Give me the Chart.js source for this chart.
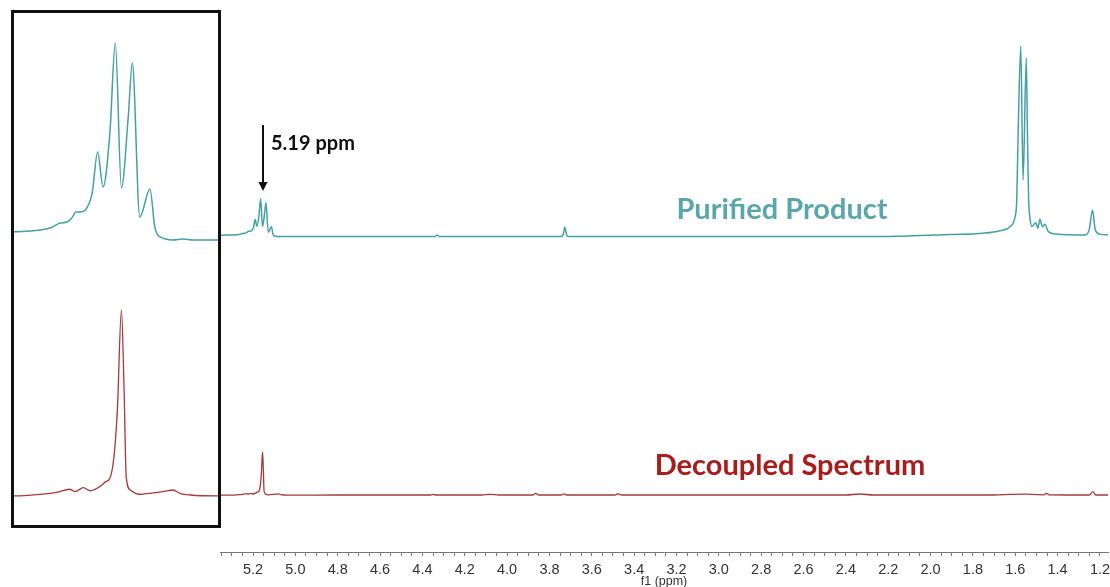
<!DOCTYPE html>
<html>
<head>
<meta charset="utf-8">
<script src="https://cdn.jsdelivr.net/npm/chart.js@4"></script>
<style>
  body { margin: 0; background: #fff; }
  #main { position: absolute; left: 0; top: 0; }
  #insetBox { position: absolute; left: 11px; top: 10px; width: 204px; height: 512px; border: 3px solid #111; background: #fff; }
  #inset { display: block; }
</style>
</head>
<body>
<canvas id="main" width="1110" height="587"></canvas>
<div id="insetBox"><canvas id="inset" width="204" height="512"></canvas></div>
<script>
// chemical shift (ppm) and intensity
const tealPpm = [5.36, 5.316, 5.26, 5.245, 5.235, 5.228, 5.222, 5.216, 5.206, 5.198, 5.19, 5.182, 5.172, 5.164, 5.155, 5.145, 5.139, 5.128, 5.113, 5.106, 5.098, 5.079, 5.065, 5.05, 5.01, 4.6, 4.34, 4.33, 4.32, 3.745, 3.735, 3.727, 3.72, 3.71, 2.5, 2.2, 1.908, 1.75, 1.672, 1.625, 1.601, 1.593, 1.586, 1.574, 1.563, 1.548, 1.542, 1.537, 1.53, 1.522, 1.503, 1.493, 1.484, 1.471, 1.46, 1.444, 1.405, 1.271, 1.251, 1.235, 1.222, 1.2, 1.16];
const tealInt = [0.4, 0.51, 0.91, 1.42, 1.52, 1.93, 2.54, 2.54, 2.94, 4.47, 8.63, 5.08, 10.56, 19.7, 4.97, 12.18, 17.66, 2.03, 4.87, 1.02, 0, -0.3, -0.2, -0.3, -0.3, -0.3, -0.2, 0.5, -0.2, -0.3, 0.8, 4.7, 0.8, -0.3, -0.3, -0.2, 0.8, 1.5, 2.8, 4.9, 10.2, 18.9, 55.8, 100, 29.5, 93.7, 50, 20, 9, 5, 7, 4, 8.8, 4.9, 6.2, 2.3, 1, 0.5, 3.2, 13.7, 3.2, 1, 0.5];

const redPpm = [5.36, 5.313, 5.26, 5.25, 5.231, 5.223, 5.211, 5.201, 5.187, 5.178, 5.172, 5.166, 5.161, 5.155, 5.151, 5.148, 5.142, 5.128, 5.094, 5.079, 5.069, 5.054, 5.01, 4.8, 4.36, 4.35, 4.34, 4.12, 4.08, 4.04, 3.88, 3.865, 3.85, 3.745, 3.731, 3.72, 3.49, 3.476, 3.46, 2.4, 2.333, 2.27, 1.7, 1.62, 1.55, 1.5, 1.465, 1.452, 1.44, 1.25, 1.233, 1.22, 1.16];
const redInt = [-0.5, -0.5, 0.9, 1.4, 3.1, 1.8, 4.0, 2.3, 4.5, 7.2, 9.0, 20.7, 46, 100, 55, 9.9, 2.7, 0.4, 1.8, 2.7, 0.9, 0, -0.5, 0, 0, 1.5, 0, 0, 1.5, 0, 0, 4, 0, 0, 2.5, 0, 0, 3, 0, 0, 2.3, 0, 0, 1.5, 2, 1, 0.5, 4, 0.5, 0, 7.7, 0, 0];

const tickLabels = ["5.2", "5.0", "4.8", "4.6", "4.4", "4.2", "4.0", "3.8", "3.6", "3.4", "3.2", "3.0", "2.8", "2.6", "2.4", "2.2", "2.0", "1.8", "1.6", "1.4", "1.2"];

const TEAL = "#45a0a6";
const RED = "#a53a3c";

function series(ppm, vals) {
  return ppm.map((p, i) => ({ x: p, y: vals[i] }));
}

function datasets() {
  return [
    {
      label: "Purified Product",
      data: series(tealPpm, tealInt),
      borderColor: TEAL,
      borderWidth: 1.5,
      pointRadius: 0,
      cubicInterpolationMode: "monotone",
      yAxisID: "yT",
    },
    {
      label: "Decoupled Spectrum",
      data: series(redPpm, redInt),
      borderColor: RED,
      borderWidth: 1.3,
      pointRadius: 0,
      cubicInterpolationMode: "monotone",
      yAxisID: "yR",
    },
  ];
}

// arrow and text labels
const notes = {
  id: "notes",
  afterDatasetsDraw(chart) {
    const { ctx, scales } = chart;
    const ax = scales.x.getPixelForValue(5.153);
    const top = scales.yT.getPixelForValue(58.4);
    const tip = scales.yT.getPixelForValue(23.7);
    ctx.save();
    ctx.strokeStyle = "#111";
    ctx.fillStyle = "#111";
    ctx.lineWidth = 2;
    ctx.beginPath();
    ctx.moveTo(ax, top);
    ctx.lineTo(ax, tip - 7);
    ctx.stroke();
    ctx.beginPath();
    ctx.moveTo(ax - 4.5, tip - 9);
    ctx.lineTo(ax + 4.5, tip - 9);
    ctx.lineTo(ax, tip);
    ctx.closePath();
    ctx.fill();

    ctx.textBaseline = "alphabetic";
    ctx.textAlign = "left";
    ctx.font = "bold 20px Lato";
    ctx.fillText("5.19 ppm", 271, 150);

    ctx.textAlign = "center";
    ctx.font = "bold 29px Lato";
    ctx.fillStyle = "#5aa6ab";
    ctx.fillText("Purified Product", 782, 219);
    ctx.fillStyle = "#a81c1c";
    ctx.fillText("Decoupled Spectrum", 790, 475);
    ctx.restore();
  },
};

new Chart(document.getElementById("main"), {
  type: "line",
  data: { datasets: datasets() },
  options: {
    responsive: false,
    animation: false,
    layout: { padding: { left: 220, right: 2, top: 0, bottom: 0 } },
    plugins: { legend: { display: false }, tooltip: { enabled: false } },
    scales: {
      x: {
        type: "linear",
        reverse: true,
        min: 1.162,
        max: 5.356,
        border: { display: true, color: "#777", width: 1 },
        grid: { drawOnChartArea: false, drawTicks: true, tickLength: 4, color: "#777" },
        ticks: {
          stepSize: 0.05,
          includeBounds: false,
          autoSkip: false,
          maxRotation: 0,
          padding: 5,
          color: "#333",
          font: { family: "Liberation Sans", size: 14.5 },
          callback: (v) => {
            const lab = v.toFixed(1);
            return Math.abs(v * 10 - Math.round(v * 10)) < 1e-6 && tickLabels.includes(lab) ? lab : "";
          },
        },
        title: {
          display: true,
          text: "f1 (ppm)",
          padding: { top: 0, bottom: -2 },
          color: "#333",
          font: { family: "Liberation Sans", size: 12.5 },
        },
        afterFit: (s) => {
          s.height = 35;
          s.paddingLeft = 0;
          s.paddingRight = 0;
        },
      },
      yT: { display: false, min: -166.32, max: 124.21 },
      yR: { display: false, min: -132.56, max: 1151.16 },
    },
  },
  plugins: [notes],
});

// zoomed view of the 5.19 ppm region
new Chart(document.getElementById("inset"), {
  type: "line",
  data: { datasets: datasets() },
  options: {
    responsive: false,
    animation: false,
    layout: { padding: 0 },
    plugins: { legend: { display: false }, tooltip: { enabled: false } },
    scales: {
      x: { type: "linear", reverse: true, display: false, min: 5.013, max: 5.313 },
      yT: { display: false, min: -29.24, max: 22.74 },
      yR: { display: false, min: -16.22, max: 260.54 },
    },
  },
});
</script>
</body>
</html>
